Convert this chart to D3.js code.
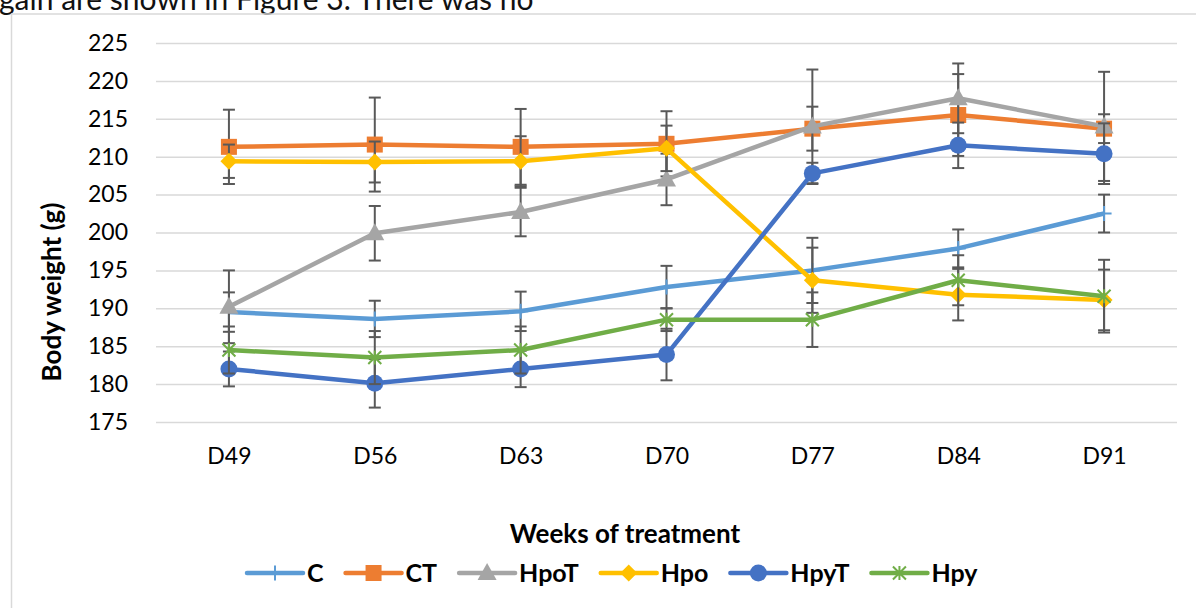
<!DOCTYPE html>
<html>
<head>
<meta charset="utf-8">
<script src="https://cdn.jsdelivr.net/npm/d3@7"></script>
<style>
  html, body { margin: 0; padding: 0; background: #fff; }
  svg { display: block; font-family: Lato, "Open Sans", sans-serif; }
</style>
</head>
<body>
<svg id="chart" width="1196" height="608"></svg>
<script>
// categories and tick labels
const weeks = ["D49", "D56", "D63", "D70", "D77", "D84", "D91"];
const yTicks = [175, 180, 185, 190, 195, 200, 205, 210, 215, 220, 225];
const seriesNames = ["C", "CT", "HpoT", "Hpo", "HpyT", "Hpy"];

// means and error bar half-widths
const cMean    = [189.5, 188.6, 189.6, 192.8, 195.0, 197.9, 202.5];
const cErr     = [2.6, 2.4, 2.6, 2.8, 4.3, 2.5, 2.5];
const ctMean   = [211.3, 211.6, 211.3, 211.7, 213.7, 215.5, 213.7];
const ctErr    = [4.9, 6.2, 5.0, 4.3, 2.9, 5.4, 1.9];
const hpoTMean = [190.2, 199.9, 202.7, 207.0, 214.0, 217.7, 214.0];
const hpoTErr  = [4.8, 3.6, 3.2, 3.4, 7.5, 4.6, 7.2];
const hpoMean  = [209.4, 209.3, 209.4, 211.1, 193.7, 191.8, 191.1];
const hpoErr   = [2.2, 2.7, 3.3, 3.0, 4.3, 3.4, 4.0];
const hpyTMean = [182.0, 180.1, 182.0, 183.9, 207.8, 211.5, 210.4];
const hpyTErr  = [2.3, 3.2, 2.4, 3.4, 1.4, 3.0, 4.0];
const hpyMean  = [184.5, 183.5, 184.5, 188.5, 188.5, 193.7, 191.6];
const hpyErr   = [3.1, 3.5, 3.1, 1.5, 3.6, 3.3, 4.8];

const colors = {
  C: "#5B9BD5", CT: "#ED7D31", HpoT: "#A5A5A5",
  Hpo: "#FFC000", HpyT: "#4472C4", Hpy: "#70AD47"
};
const markers = { C: "plus", CT: "square", HpoT: "triangle", Hpo: "diamond", HpyT: "circle", Hpy: "star" };

const series = [
  { name: "C", mean: cMean, err: cErr },
  { name: "CT", mean: ctMean, err: ctErr },
  { name: "HpoT", mean: hpoTMean, err: hpoTErr },
  { name: "Hpo", mean: hpoMean, err: hpoErr },
  { name: "HpyT", mean: hpyTMean, err: hpyTErr },
  { name: "Hpy", mean: hpyMean, err: hpyErr }
];

const svg = d3.select("#chart");
const plot = { left: 156, right: 1177, top: 43, bottom: 422 };

const x = d3.scalePoint().domain(weeks).range([plot.left, plot.right]).padding(0.5);
const y = d3.scaleLinear().domain([175, 225]).range([plot.bottom, plot.top]);

// clipped line of body text above the figure
svg.append("text")
  .attr("x", -1)
  .attr("y", 10)
  .attr("font-size", 30)
  .attr("fill", "#111")
  .text("gain are shown in Figure 3. There was no");

// chart frame (continues past the window)
svg.append("path")
  .attr("d", "M11.5,1300 V14 H1300")
  .attr("fill", "none")
  .attr("stroke", "#D9D9D9")
  .attr("stroke-width", 1.5);

// gridlines
svg.append("g")
  .attr("transform", `translate(${plot.left},0)`)
  .call(d3.axisLeft(y).tickValues(yTicks).tickSize(-(plot.right - plot.left)).tickFormat(""))
  .call(g => g.select(".domain").remove())
  .selectAll("line")
  .attr("stroke", "#D9D9D9")
  .attr("stroke-width", 1.5);

// y tick labels
const yAxis = svg.append("g")
  .attr("transform", "translate(128,0)")
  .call(d3.axisLeft(y).tickValues(yTicks).tickSize(0).tickPadding(0));
yAxis.select(".domain").remove();
yAxis.selectAll("text")
  .attr("font-family", "Lato, sans-serif")
  .attr("font-size", 23)
  .attr("fill", "#000");

// x tick labels
const xAxis = svg.append("g")
  .attr("transform", "translate(0,448)")
  .call(d3.axisBottom(x).tickSize(0).tickPadding(0));
xAxis.select(".domain").remove();
xAxis.selectAll("text")
  .attr("font-family", "Lato, sans-serif")
  .attr("font-size", 23)
  .attr("fill", "#000");

// axis titles
svg.append("text")
  .attr("transform", "translate(61,292) rotate(-90)")
  .attr("text-anchor", "middle")
  .attr("font-size", 26)
  .attr("font-weight", "bold")
  .text("Body weight (g)");

svg.append("text")
  .attr("x", 625)
  .attr("y", 543)
  .attr("text-anchor", "middle")
  .attr("font-size", 26)
  .attr("font-weight", "bold")
  .text("Weeks of treatment");

function drawMarker(g, kind, color) {
  if (kind === "square") {
    g.append("rect").attr("x", -8).attr("y", -8).attr("width", 16).attr("height", 16).attr("fill", color);
  } else if (kind === "triangle") {
    g.append("path").attr("d", "M0,-10 L9.5,7 L-9.5,7 Z").attr("fill", color);
  } else if (kind === "diamond") {
    g.append("path").attr("d", "M0,-8.5 L8.5,0 L0,8.5 L-8.5,0 Z").attr("fill", color);
  } else if (kind === "circle") {
    g.append("circle").attr("r", 8.5).attr("fill", color);
  } else if (kind === "plus") {
    g.append("path").attr("d", "M-7.5,0 H7.5 M0,-7.5 V7.5")
      .attr("stroke", color).attr("stroke-width", 2).attr("fill", "none");
  } else if (kind === "star") {
    g.append("path").attr("d", "M-6.5,-6.5 L6.5,6.5 M-6.5,6.5 L6.5,-6.5 M0,-7 V7")
      .attr("stroke", color).attr("stroke-width", 2).attr("fill", "none");
  }
}

const line = d3.line().x(d => x(d.week)).y(d => y(d.value));

series.forEach(s => {
  const pts = weeks.map((w, i) => ({ week: w, value: s.mean[i], err: s.err[i] }));
  const g = svg.append("g").attr("class", "series-" + s.name);

  // error bars
  const eb = g.append("g").selectAll("g").data(pts).enter().append("g");
  eb.append("line")
    .attr("x1", d => x(d.week)).attr("x2", d => x(d.week))
    .attr("y1", d => y(d.value + d.err)).attr("y2", d => y(d.value - d.err))
    .attr("stroke", "#595959").attr("stroke-width", 2);
  [1, -1].forEach(sign => {
    eb.append("line")
      .attr("x1", d => x(d.week) - 6).attr("x2", d => x(d.week) + 6)
      .attr("y1", d => y(d.value + sign * d.err)).attr("y2", d => y(d.value + sign * d.err))
      .attr("stroke", "#595959").attr("stroke-width", 2);
  });

  g.append("path")
    .datum(pts)
    .attr("d", line)
    .attr("fill", "none")
    .attr("stroke", colors[s.name])
    .attr("stroke-width", 4.5)
    .attr("stroke-linejoin", "round");

  g.selectAll(".marker").data(pts).enter().append("g")
    .attr("class", "marker")
    .attr("transform", d => `translate(${x(d.week)},${y(d.value)})`)
    .each(function () { drawMarker(d3.select(this), markers[s.name], colors[s.name]); });
});

// legend
const legend = svg.append("g").attr("transform", "translate(247,573)");
let lx = 0;
seriesNames.forEach(name => {
  const item = legend.append("g").attr("transform", `translate(${lx},0)`);
  item.append("line")
    .attr("x1", 0).attr("x2", 56).attr("y1", 0).attr("y2", 0)
    .attr("stroke", colors[name]).attr("stroke-width", 4.5).attr("stroke-linecap", "round");
  drawMarker(item.append("g").attr("transform", "translate(28,0)"), markers[name], colors[name]);
  const t = item.append("text")
    .attr("x", 60).attr("y", 9)
    .attr("font-size", 25)
    .attr("font-weight", "bold")
    .text(name);
  lx += 60 + t.node().getComputedTextLength() + 22;
});
</script>
</body>
</html>
